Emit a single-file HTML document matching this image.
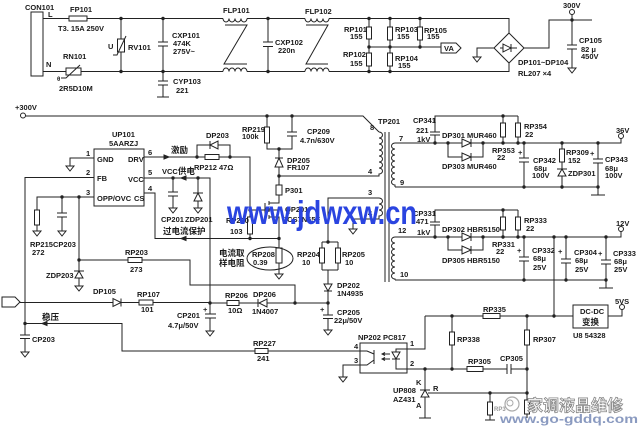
<!DOCTYPE html>
<html><head><meta charset="utf-8">
<style>
html,body{margin:0;padding:0;background:#fff;}
svg{display:block;}
text{font-family:"Liberation Sans","Noto Sans CJK SC",sans-serif;font-size:7.5px;font-weight:bold;fill:#1a1a1a;}
.c{font-size:8.5px;}
</style></head><body>
<svg width="644" height="432" viewBox="0 0 644 432" xmlns="http://www.w3.org/2000/svg">
<rect width="644" height="432" fill="#fff"/>
<g stroke="#222" stroke-width="1" fill="none">
<!-- ===== Mains input ===== -->
<rect x="31" y="12" width="12" height="64"/>
<path d="M43,18.5 H69 M87,18.5 H223 M247,18.5 H305 M329,18.5 H509 V33"/>
<rect x="69" y="16" width="18" height="5" fill="#fff"/>
<path d="M43,71.5 H66 M81,71.5 H223 M247,71.5 H305 M329,71.5 H509 V63"/>
<rect x="66" y="68" width="15" height="7" fill="#fff"/>
<path d="M61,78 H66 L80,65"/>
<path d="M121,18.5 V39 M121,52 V71.5"/>
<rect x="117.5" y="39" width="7" height="13" fill="#fff"/>
<path d="M113,55 H117 L126,36"/>
<path d="M163,18.5 V42 M158,42 H168 M158,46 H168 M163,46 V71.5"/>
<path d="M163,71.5 V81 M158,81 H168 M158,85 H168 M163,85 V97 M157,97 H169"/>
<!-- FLP101 -->
<path d="M223,18.5 a3,3.5 0 0 0 6,0 a3,3.5 0 0 0 6,0 a3,3.5 0 0 0 6,0 a3,3.5 0 0 0 6,0"/>
<path d="M223,71.5 a3,3.5 0 0 1 6,0 a3,3.5 0 0 1 6,0 a3,3.5 0 0 1 6,0 a3,3.5 0 0 1 6,0"/>
<path d="M225,25 H247 L224,64 H247"/>
<path d="M268,18.5 V42 M263,42 H273 M263,46.5 H273 M268,46.5 V71.5"/>
<!-- FLP102 -->
<path d="M305,18.5 a3,3.5 0 0 0 6,0 a3,3.5 0 0 0 6,0 a3,3.5 0 0 0 6,0 a3,3.5 0 0 0 6,0"/>
<path d="M305,71.5 a3,3.5 0 0 1 6,0 a3,3.5 0 0 1 6,0 a3,3.5 0 0 1 6,0 a3,3.5 0 0 1 6,0"/>
<path d="M306,25 H328 L306,64 H328"/>
<!-- RP101-105 -->
<path d="M369,18.5 V71.5 M390,18.5 V71.5 M420,18.5 V47 M369,47 H441"/>
<rect x="366.5" y="27" width="5" height="12" fill="#fff"/>
<rect x="366.5" y="53" width="5" height="13" fill="#fff"/>
<rect x="387.5" y="27" width="5" height="13" fill="#fff"/>
<rect x="387.5" y="53" width="5" height="13" fill="#fff"/>
<rect x="417.5" y="27" width="5" height="13" fill="#fff"/>
<polygon points="441,43 456,43 461,48 456,53 441,53" fill="#fff"/>
<!-- bridge -->
<polygon points="509,33 524,48 509,63 494,48"/>
<path d="M500,48 H517 M511,44 V52"/>
<path d="M503,44 L503,52 L511,48 Z" fill="#fff"/>
<path d="M494,48 H477 V57"/>
<path d="M473,57 H481 L477,62 Z"/>
<path d="M524,48 H549 V20 H592 M572,20 V14.5"/>
<circle cx="572" cy="12" r="2.5" fill="#fff"/>
<path d="M572,20 V45 M567,45 H577 M567,49 H577 M572,49 V68 M568,68 H576 L572,73 Z"/>

<!-- ===== +300V line & transformer ===== -->
<circle cx="23" cy="115.5" r="2.5" fill="#fff"/>
<path d="M25.5,116 H363 L379,132"/>
<path d="M379,132 a3.5,3 0 0 1 0,6 a3.5,3 0 0 1 0,6 a3.5,3 0 0 1 0,6 a3.5,3 0 0 1 0,6 a3.5,3 0 0 1 0,6 a3.5,3 0 0 1 0,6 a3.5,3 0 0 1 0,6 V176 H279"/>
<path d="M328,242 V198 H379 a3.5,3 0 0 1 0,6 a3.5,3 0 0 1 0,6 a3.5,3 0 0 1 0,6 V219 H353 V229 M349,229 H357 L353,234 Z"/>
<path d="M385,132 V282 M389,132 V282"/>
<path d="M395,143 a3.5,3 0 0 0 0,6 a3.5,3 0 0 0 0,6 a3.5,3 0 0 0 0,6 a3.5,3 0 0 0 0,6 a3.5,3 0 0 0 0,6 a3.5,3 0 0 0 0,6 a3.5,3 0 0 0 0,6 V187"/>
<path d="M395,237 a3.5,3 0 0 0 0,6 a3.5,3 0 0 0 0,6 a3.5,3 0 0 0 0,6 a3.5,3 0 0 0 0,6 a3.5,3 0 0 0 0,6 a3.5,3 0 0 0 0,6 a3.5,3 0 0 0 0,6 V280"/>

<!-- ===== UP101 ===== -->
<rect x="94" y="149" width="50" height="57"/>
<path d="M94,158 H70 V166 M66,166 H74 L70,171 Z"/>
<path d="M94,177.5 H25 V335"/>
<path d="M94,197 H37 V210 M37,225 V231 M33,231 H41 L37,236 Z"/>
<rect x="34.5" y="210" width="5" height="15" fill="#fff"/>
<path d="M62,197 V213 M57,213 H67 M57,217 H67 M62,217 V231 M58,231 H66 L62,236 Z"/>
<path d="M79,197 V271 M75,278 H83 L79,271 Z M74,271 H84 M79,278 V286 M75,286 H83 L79,291 Z"/>
<path d="M79,260 H190 V285 H295 V303"/>
<rect x="128" y="257.5" width="14" height="5" fill="#fff"/>
<!-- DRV -->
<path d="M144,157 H250 V210 H265"/>
<rect x="205" y="154.5" width="14" height="5" fill="#fff"/>
<path d="M197,157 V145 H210 M218,145 H230 V157 M210,141 V149"/>
<path d="M218,141 L218,149 L210,145 Z"/>
<path d="M164,155 L169,157 L164,159 Z" fill="#222"/>
<!-- VCC -->
<path d="M144,178 H210 V314"/>
<path d="M186,176 L181,178 L186,180 Z" fill="#222"/>
<path d="M173,178 V192 M168,192 H178 M168,196 H178 M173,196 V208 M169,208 H177 L173,213 Z"/>
<path d="M198,178 V193 M194,201 H202 L198,193 Z M193,193 H203 M198,201 V208 M194,208 H202 L198,213 Z"/>
<!-- CS -->
<path d="M144,193 H155 V238.5 H279"/>
<path d="M186,236.5 L181,238.5 L186,240.5 Z" fill="#222"/>
<path d="M250,210 V238.5"/>
<rect x="247.5" y="217" width="5" height="17" fill="#fff"/>
<!-- RP219 / CP209 / DP205 -->
<path d="M267,116 V149 H292 V136 M287,136 H297 M287,132 H297 M292,132 V116"/>
<rect x="264.5" y="127" width="5" height="16" fill="#fff"/>
<path d="M279,149 V195 M275,158 H283"/>
<path d="M275,167 H283 L279,158 Z" fill="#fff"/>
<rect x="276" y="185" width="6" height="10" fill="#fff"/>
<!-- MOSFET -->
<path d="M279,195 V203 H269 M265,203 V217 M269,201 V205 M269,208 V212 M269,215 V219 M269,210 H279 M269,217 H279 V248 M279,263 V274 M275,274 H283 L279,279 Z"/>
<rect x="276" y="248" width="6" height="15" fill="#fff"/>
<ellipse cx="270" cy="258.5" rx="23" ry="11.5"/>
<!-- RP204/205, DP202, CP205 -->
<path d="M322,242 H338 M322,242 V270 M338,242 V270 M322,270 H338 M328,270 V315"/>
<rect x="319.5" y="248" width="5" height="15" fill="#fff"/>
<rect x="335.5" y="248" width="5" height="15" fill="#fff"/>
<path d="M324,284 H332 L328,291 Z" fill="#fff"/>
<path d="M324,291 H332"/>
<path d="M323,315 H333 M323,318.5 H333 M328,318.5 V330 M324,330 H332 L328,335 Z"/>
<!-- RP206 DP206 -->
<path d="M210,303 H259 M267,303 H328 M258,299 V307"/>
<rect x="227" y="300.5" width="12" height="5" fill="#fff"/>
<path d="M267,299 V307 L259,303 Z" fill="#fff"/>
<path d="M205,314 H216 M205,318 H216 M210,318 V331 M206,331 H214 L210,336 Z"/>
<!-- VA left -->
<polygon points="2,297 15,297 20,302 15,307 2,307" fill="#fff"/>
<path d="M20,302.5 H113 M121,302.5 H210 M121,298.5 V306.5"/>
<path d="M113,298.5 V306.5 L121,302.5 Z" fill="#fff"/>
<rect x="139" y="300" width="14" height="5" fill="#fff"/>
<!-- 稳压 -->
<path d="M25,323.5 H122 V351 H360"/>
<path d="M47,321.5 L42,323.5 L47,325.5 Z" fill="#222"/>
<rect x="255" y="348.5" width="13" height="5" fill="#fff"/>
<path d="M20,335 H30 M20,338.5 H30 M25,338.5 V352 M21,352 H29 L25,357 Z"/>

<!-- ===== 36V ===== -->
<path d="M395,143 H462 M471,143 H621 V138.5 M471,139 V147"/>
<path d="M462,139 V147 L471,143 Z" fill="#fff"/>
<path d="M448,143 V157 H462 M471,157 H483 V143 M471,153 V161"/>
<path d="M462,153 V161 L471,157 Z" fill="#fff"/>
<path d="M435,143 V135 M430,135 H440 M430,132 H440 M435,132 V116 H518 M503,116 V143 M518,116 V143"/>
<rect x="500.5" y="123" width="5" height="14" fill="#fff"/>
<rect x="515.5" y="123" width="5" height="14" fill="#fff"/>
<path d="M524,143 V158 M519,158 H529 M519,162 H529 M524,162 V187"/>
<path d="M562,143 V169 M557,169 H567 M562,176 V187"/>
<rect x="559.5" y="149" width="5" height="13" fill="#fff"/>
<path d="M558,176 H566 L562,169 Z" fill="#fff"/>
<path d="M598,143 V159 M593,159 H603 M593,163 H603 M598,163 V195 M591,195 H605"/>
<path d="M395,187 H598"/>
<circle cx="621" cy="136" r="2.5" fill="#fff"/>

<!-- ===== 12V ===== -->
<path d="M395,237 H462 M471,237 H621 V231.5 M471,233 V241"/>
<path d="M462,233 V241 L471,237 Z" fill="#fff"/>
<path d="M448,237 V250 H462 M471,250 H483 V237 M471,246 V254"/>
<path d="M462,246 V254 L471,250 Z" fill="#fff"/>
<path d="M435,237 V225 M430,225 H440 M430,222 H440 M435,222 V210 H518 M503,210 V237 M518,210 V237"/>
<rect x="500.5" y="217" width="5" height="13" fill="#fff"/>
<rect x="515.5" y="217" width="5" height="13" fill="#fff"/>
<path d="M524,237 V257 M519,257 H529 M519,261 H529 M524,261 V280"/>
<path d="M554,237 V316"/>
<path d="M566,237 V259 M561,259 H571 M561,263 H571 M566,263 V280"/>
<path d="M606,237 V260 M601,260 H611 M601,264 H611 M606,264 V288 M599,288 H613"/>
<path d="M395,280 H606"/>
<circle cx="621" cy="229" r="2.5" fill="#fff"/>

<!-- ===== Feedback ===== -->
<path d="M425,316 H573 M608,316 H622 V309.5"/>
<rect x="483" y="313.5" width="17" height="5" fill="#fff"/>
<rect x="573" y="305" width="35" height="23" fill="#fff"/>
<circle cx="622" cy="307" r="2.5" fill="#fff"/>
<path d="M425,316 V349 H407"/>
<rect x="360" y="343" width="47" height="30"/>
<path d="M407,349 H396 V352 M392,359 H400 M396,359 V369 H407"/>
<path d="M392,352 H400 L396,359 Z"/>
<path d="M390,354 H383 M390,359 H383"/>
<path d="M385,352.5 L382,354 L385,355.5 M385,357.5 L382,359 L385,360.5"/>
<path d="M374,350 V364 M374,354 L367,351 H360 M374,360 L367,365 H360"/>
<path d="M360,365 H343 V377 M339,377 H347 L343,382 Z"/>
<path d="M407,369 H467 M483,369 H507 M511,369 H527 M507,364 V374 M511,364 V374"/>
<rect x="467" y="366.5" width="16" height="5" fill="#fff"/>
<path d="M452,316 V369"/>
<rect x="449.5" y="332" width="5" height="13" fill="#fff"/>
<path d="M527,316 V418"/>
<rect x="524.5" y="330" width="5" height="15" fill="#fff"/>
<rect x="524.5" y="400" width="5" height="14" fill="#fff"/>
<path d="M425,369 V390 M420,390 H430 M425,397 V418 M419,418 H431 M428,393 H527"/>
<path d="M421,397 H429 L425,390 Z"/>
<path d="M490,393 V402 M490,415 V420 M485,420 H495"/>
<rect x="487.5" y="402" width="5" height="13" fill="#fff"/>
</g>

<!-- dots -->
<g fill="#222">
<circle cx="121" cy="18.5" r="1.7"/><circle cx="163" cy="18.5" r="1.7"/><circle cx="121" cy="71.5" r="1.7"/><circle cx="163" cy="71.5" r="1.7"/>
<circle cx="268" cy="18.5" r="1.7"/><circle cx="268" cy="71.5" r="1.7"/>
<circle cx="369" cy="18.5" r="1.7"/><circle cx="369" cy="47" r="1.7"/><circle cx="369" cy="71.5" r="1.7"/>
<circle cx="390" cy="18.5" r="1.7"/><circle cx="390" cy="47" r="1.7"/><circle cx="390" cy="71.5" r="1.7"/>
<circle cx="420" cy="18.5" r="1.7"/><circle cx="420" cy="47" r="1.7"/><circle cx="572" cy="20" r="1.7"/>
<circle cx="62" cy="197" r="1.7"/><circle cx="79" cy="197" r="1.7"/><circle cx="79" cy="260" r="1.7"/>
<circle cx="197" cy="157" r="1.7"/><circle cx="230" cy="157" r="1.7"/>
<circle cx="173" cy="178" r="1.7"/><circle cx="198" cy="178" r="1.7"/>
<circle cx="250" cy="238.5" r="1.7"/><circle cx="279" cy="238.5" r="1.7"/><circle cx="250" cy="210" r="1.7"/>
<circle cx="267" cy="116" r="1.7"/><circle cx="292" cy="116" r="1.7"/><circle cx="279" cy="149" r="1.7"/><circle cx="279" cy="176" r="1.7"/>
<circle cx="328" cy="242" r="1.7"/><circle cx="328" cy="303" r="1.7"/><circle cx="210" cy="303" r="1.7"/><circle cx="295" cy="303" r="1.7"/>
<circle cx="25" cy="323.5" r="1.7"/>
<circle cx="435" cy="143" r="1.7"/><circle cx="448" cy="143" r="1.7"/><circle cx="483" cy="143" r="1.7"/><circle cx="503" cy="143" r="1.7"/><circle cx="518" cy="143" r="1.7"/><circle cx="524" cy="143" r="1.7"/><circle cx="562" cy="143" r="1.7"/><circle cx="598" cy="143" r="1.7"/>
<circle cx="503" cy="116" r="1.7"/><circle cx="524" cy="187" r="1.7"/><circle cx="562" cy="187" r="1.7"/><circle cx="598" cy="187" r="1.7"/>
<circle cx="435" cy="237" r="1.7"/><circle cx="448" cy="237" r="1.7"/><circle cx="483" cy="237" r="1.7"/><circle cx="503" cy="237" r="1.7"/><circle cx="518" cy="237" r="1.7"/><circle cx="524" cy="237" r="1.7"/><circle cx="554" cy="237" r="1.7"/><circle cx="566" cy="237" r="1.7"/><circle cx="606" cy="237" r="1.7"/>
<circle cx="503" cy="210" r="1.7"/><circle cx="524" cy="280" r="1.7"/><circle cx="566" cy="280" r="1.7"/><circle cx="606" cy="280" r="1.7"/>
<circle cx="452" cy="316" r="1.7"/><circle cx="527" cy="316" r="1.7"/><circle cx="554" cy="316" r="1.7"/>
<circle cx="425" cy="369" r="1.7"/><circle cx="452" cy="369" r="1.7"/><circle cx="527" cy="369" r="1.7"/><circle cx="527" cy="393" r="1.7"/><circle cx="490" cy="393" r="1.7"/>
</g>

<!-- ===== Labels ===== -->
<text x="25" y="10">CON101</text>
<text x="48" y="17">L</text>
<text x="46" y="67">N</text>
<text x="70" y="12">FP101</text>
<text x="58" y="31">T3. 15A 250V</text>
<text x="63" y="59">RN101</text>
<text x="57" y="81" style="font-size:6px">θ</text>
<text x="59" y="91">2R5D10M</text>
<text x="108" y="49">U</text>
<text x="128" y="50">RV101</text>
<text x="172" y="38">CXP101</text>
<text x="173" y="46">474K</text>
<text x="173" y="54">275V~</text>
<text x="173" y="84">CYP103</text>
<text x="176" y="93">221</text>
<text x="223" y="13">FLP101</text>
<text x="275" y="45">CXP102</text>
<text x="278" y="53">220n</text>
<text x="305" y="14">FLP102</text>
<text x="344" y="32">RP101</text>
<text x="350" y="39">155</text>
<text x="343" y="57">RP102</text>
<text x="350" y="66">155</text>
<text x="395" y="32">RP103</text>
<text x="397" y="39">155</text>
<text x="395" y="61">RP104</text>
<text x="398" y="68">155</text>
<text x="424" y="33">RP105</text>
<text x="427" y="39">155</text>
<text x="444" y="51">VA</text>
<text x="563" y="8">300V</text>
<text x="579" y="43">CP105</text>
<text x="581" y="52">82 μ</text>
<text x="581" y="59">450V</text>
<text x="518" y="65">DP101~DP104</text>
<text x="518" y="76">RL207  ×4</text>

<text x="15" y="110">+300V</text>
<text x="112" y="137">UP101</text>
<text x="109" y="146">5AARZJ</text>
<text x="86" y="156">1</text>
<text x="86" y="175">2</text>
<text x="86" y="195">3</text>
<text x="148" y="155">6</text>
<text x="148" y="175">5</text>
<text x="148" y="191">4</text>
<text x="97" y="162">GND</text>
<text x="97" y="181">FB</text>
<text x="97" y="201">OPP/OVC</text>
<text x="128" y="162">DRV</text>
<text x="128" y="182">VCC</text>
<text x="134" y="201">CS</text>
<text x="171" y="153" class="c">激励</text>
<text x="206" y="138">DP203</text>
<text x="194" y="170">RP212  47Ω</text>
<text x="162" y="174">VCC<tspan class="c">供电</tspan></text>
<text x="161" y="222">CP201</text>
<text x="185" y="222">ZDP201</text>
<text x="163" y="234" class="c">过电流保护</text>
<text x="30" y="247">RP215</text>
<text x="32" y="255">272</text>
<text x="53" y="247">CP203</text>
<text x="46" y="278">ZDP203</text>
<text x="125" y="255">RP203</text>
<text x="130" y="272">273</text>
<text x="242" y="132">RP219</text>
<text x="242" y="139">100k</text>
<text x="307" y="134">CP209</text>
<text x="300" y="143">4.7n/630V</text>
<text x="287" y="163">DP205</text>
<text x="287" y="170">FR107</text>
<text x="285" y="193">P301</text>
<text x="285" y="212">QP201</text>
<text x="283" y="222">JCS7N65F</text>
<text x="226" y="223">RP210</text>
<text x="230" y="234">103</text>
<text x="378" y="124">TP201</text>
<text x="370" y="130">8</text>
<text x="368" y="174">4</text>
<text x="368" y="195">3</text>
<text x="368" y="216">4</text>
<text x="219" y="256" class="c">电流取</text>
<text x="219" y="266" class="c">样电阻</text>
<text x="252" y="257">RP208</text>
<text x="253" y="265">0.39</text>
<text x="297" y="257">RP204</text>
<text x="302" y="265">10</text>
<text x="342" y="257">RP205</text>
<text x="345" y="265">10</text>
<text x="337" y="288">DP202</text>
<text x="337" y="296">1N4935</text>
<text x="337" y="315">CP205</text>
<text x="320" y="312">+</text>
<text x="334" y="323">22μ/50V</text>
<text x="225" y="298">RP206</text>
<text x="228" y="313">10Ω</text>
<text x="253" y="297">DP206</text>
<text x="252" y="314">1N4007</text>
<text x="177" y="318">CP201</text>
<text x="203" y="312">+</text>
<text x="168" y="328">4.7μ/50V</text>
<text x="93" y="294">DP105</text>
<text x="137" y="297">RP107</text>
<text x="141" y="312">101</text>
<text x="42" y="320" class="c">稳压</text>
<text x="32" y="342">CP203</text>
<text x="253" y="346">RP227</text>
<text x="257" y="361">241</text>

<text x="413" y="123">CP341</text>
<text x="416" y="133">221</text>
<text x="417" y="142">1kV</text>
<text x="399" y="141">7</text>
<text x="400" y="185">9</text>
<text x="442" y="138">DP301  MUR460</text>
<text x="442" y="169">DP303  MUR460</text>
<text x="524" y="129">RP354</text>
<text x="525" y="137">22</text>
<text x="492" y="153">RP353</text>
<text x="497" y="160">22</text>
<text x="518" y="155">+</text>
<text x="533" y="163">CP342</text>
<text x="534" y="171">68μ</text>
<text x="532" y="178">100V</text>
<text x="566" y="155">RP309</text>
<text x="568" y="163">152</text>
<text x="568" y="176">ZDP301</text>
<text x="590" y="156">+</text>
<text x="605" y="162">CP343</text>
<text x="605" y="171">68μ</text>
<text x="605" y="178">100V</text>
<text x="616" y="133">36V</text>

<text x="413" y="216">CP331</text>
<text x="416" y="224">471</text>
<text x="417" y="235">1kV</text>
<text x="398" y="233">12</text>
<text x="400" y="277">10</text>
<text x="442" y="232">DP302  HBR5150</text>
<text x="442" y="263">DP305  HBR5150</text>
<text x="524" y="223">RP333</text>
<text x="526" y="231">22</text>
<text x="492" y="247">RP331</text>
<text x="496" y="254">22</text>
<text x="517" y="253">+</text>
<text x="532" y="253">CP332</text>
<text x="533" y="261">68μ</text>
<text x="533" y="270">25V</text>
<text x="558" y="254">+</text>
<text x="574" y="255">CP304</text>
<text x="575" y="263">68μ</text>
<text x="575" y="272">25V</text>
<text x="598" y="256">+</text>
<text x="613" y="256">CP333</text>
<text x="614" y="264">68μ</text>
<text x="614" y="272">25V</text>
<text x="616" y="226">12V</text>

<text x="483" y="312">RP335</text>
<text x="580" y="314">DC-DC</text>
<text x="582" y="325" class="c">变换</text>
<text x="573" y="338">U8  54328</text>
<text x="615" y="304">5VS</text>
<text x="358" y="340">NP202  PC817</text>
<text x="354" y="349">4</text>
<text x="354" y="363">3</text>
<text x="410" y="346">1</text>
<text x="410" y="366">2</text>
<text x="457" y="342">RP338</text>
<text x="533" y="342">RP307</text>
<text x="468" y="364">RP305</text>
<text x="500" y="361">CP305</text>
<text x="416" y="385">K</text>
<text x="433" y="391">R</text>
<text x="416" y="408">A</text>
<text x="393" y="393">UP808</text>
<text x="393" y="402">AZ431</text>
<text x="494" y="411" style="font-size:6px;fill:#999">RP3</text>

<!-- watermarks -->
<text x="227" y="224" textLength="190" lengthAdjust="spacingAndGlyphs" style="font-size:33px;font-weight:bold;fill:#2a44e0;">www.jdwxw.cn</text>
<circle cx="512" cy="404" r="7" fill="none" stroke="#aaa" stroke-width="1.2"/>
<circle cx="510" cy="403" r="3" fill="none" stroke="#aaa" stroke-width="1"/>
<text x="527" y="411" style="font-size:16px;font-weight:bold;fill:#fff;stroke:#888;stroke-width:0.8;">家调液晶维修</text>
<text x="500" y="423" textLength="138" lengthAdjust="spacingAndGlyphs" style="font-size:12px;font-weight:bold;fill:#8a9ac0;">www.go-gddq.com</text>
</svg>
</body></html>
